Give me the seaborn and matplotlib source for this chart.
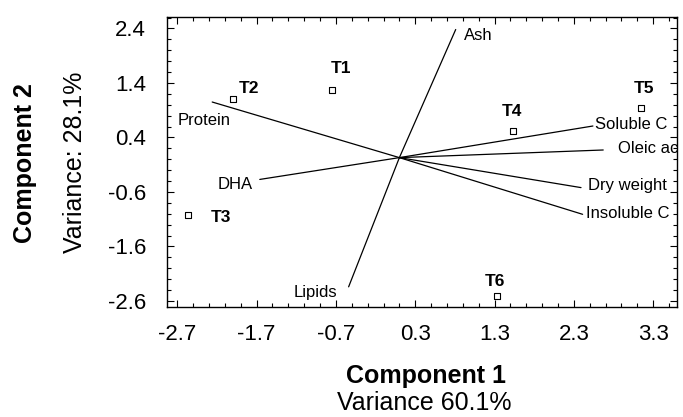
import matplotlib
matplotlib.use("Agg")
import matplotlib.pyplot as plt
from matplotlib.ticker import FixedLocator
import seaborn as sns
import pandas as pd

sns.set_theme(style="white")
plt.rcParams['font.family'] = ['Liberation Sans', 'DejaVu Sans']
plt.rcParams['text.color'] = 'black'
plt.rcParams['xtick.color'] = 'black'
plt.rcParams['ytick.color'] = 'black'

# Sample scores (treatments)
treatments = ["T1", "T2", "T3", "T4", "T5", "T6"]
comp1 = [-0.75, -2.00, -2.57, 1.53, 3.15, 1.33]
comp2 = [1.27, 1.10, -1.03, 0.52, 0.94, -2.51]
label_x = [-0.64, -1.80, -2.15, 1.52, 3.18, 1.31]
label_y = [1.67, 1.30, -1.07, 0.87, 1.30, -2.24]

# Variable loadings (vectors from common origin)
origin = (0.10, 0.03)
variables = ["Ash", "Lipids", "Protein", "DHA", "Soluble C", "Oleic ac", "Dry weight", "Insoluble C"]
vec_x = [0.81, -0.54, -2.26, -1.66, 2.54, 2.67, 2.39, 2.41]
vec_y = [2.38, -2.34, 1.05, -0.37, 0.61, 0.17, -0.52, -1.01]
vlab_x = [0.91, -0.68, -2.70, -1.75, 2.57, 2.85, 2.48, 2.45]
vlab_y = [2.27, -2.44, 0.72, -0.46, 0.63, 0.19, -0.48, -0.99]
vlab_ha = ["left", "right", "left", "right", "left", "left", "left", "left"]

xticks = [-2.7, -1.7, -0.7, 0.3, 1.3, 2.3, 3.3]
yticks = [2.4, 1.4, 0.4, -0.6, -1.6, -2.6]

fig = plt.figure(figsize=(6.83, 4.17), dpi=100)
ax = fig.add_axes([0.2445, 0.2638, 0.7467, 0.6955])

for vx, vy in zip(vec_x, vec_y):
    ax.plot([origin[0], vx], [origin[1], vy], color="black", lw=0.9)

df = pd.DataFrame({"c1": comp1, "c2": comp2, "t": treatments})
sns.scatterplot(data=df, x="c1", y="c2", marker="s", s=22, facecolor="white",
                edgecolor="black", linewidth=0.8, ax=ax, zorder=3, legend=False)

for t, lx, ly in zip(treatments, label_x, label_y):
    ax.text(lx, ly, t, fontsize=12.5, fontweight="bold", ha="center", va="center", color="black")

for v, lx, ly, ha in zip(variables, vlab_x, vlab_y, vlab_ha):
    ax.text(lx, ly, v, fontsize=12, ha=ha, va="center", color="black")

ax.set_xlim(-2.83, 3.60)
ax.set_ylim(-2.71, 2.61)
ax.xaxis.set_major_locator(FixedLocator(xticks))
ax.yaxis.set_major_locator(FixedLocator(yticks))
ax.xaxis.set_minor_locator(FixedLocator([-2.7 + 0.2 * i for i in range(-1, 33)]))
ax.yaxis.set_minor_locator(FixedLocator([2.4 - 0.2 * i for i in range(-1, 27)]))
ax.set_xticklabels([f"{t:.1f}" for t in xticks])
ax.set_yticklabels([f"{t:.1f}" for t in yticks])
ax.tick_params(which="both", direction="in", top=True, right=True, bottom=True, left=True,
               color="black", width=0.8, labelcolor="black")
ax.tick_params(which="major", length=5, labelsize=16)
ax.tick_params(axis="x", which="major", pad=12)
ax.tick_params(axis="y", which="major", pad=15)
ax.tick_params(which="minor", length=3)
for s in ax.spines.values():
    s.set_color("black")
    s.set_linewidth(1.0)

ax.set_xlabel("")
ax.set_ylabel("")
fig.text(0.623, 0.098, "Component 1", fontsize=18, fontweight="bold", ha="center", va="center")
fig.text(0.621, 0.034, "Variance 60.1%", fontsize=18, ha="center", va="center")
fig.text(0.037, 0.61, "Component 2", fontsize=18, fontweight="bold", rotation=90, ha="center", va="center")
fig.text(0.11, 0.61, "Variance: 28.1%", fontsize=18, rotation=90, ha="center", va="center")

fig.savefig("out.png", dpi=100)
